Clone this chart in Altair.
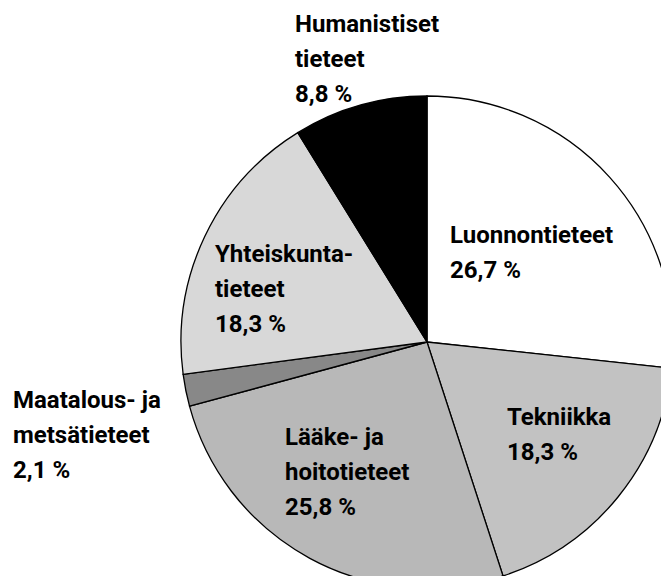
import altair as alt
import pandas as pd

# --- data ---
categories = [
    "Luonnontieteet",
    "Tekniikka",
    "Lääke- ja\nhoitotieteet",
    "Maatalous- ja\nmetsätieteet",
    "Yhteiskunta-\ntieteet",
    "Humanistiset\ntieteet",
]
shares = [26.7, 18.3, 25.8, 2.1, 18.3, 8.8]

# --- styles / layout ---
fills = ["#ffffff", "#c2c2c2", "#b8b8b8", "#888888", "#d8d8d8", "#000000"]
label_anchor = [  # left x, first baseline y (pixels in plot area)
    (442, 235),
    (499, 417),
    (277, 437),
    (5, 400),
    (207, 254),
    (287, 24),
]

W, H = 653, 568
CX, CY, R = 419, 334, 246


def fmt(v):
    return f"{v:.1f}".replace(".", ",") + " %"


df = pd.DataFrame({
    "cat": categories,
    "share": shares,
    "order": list(range(len(categories))),
})

pie = alt.Chart(df).mark_arc(
    radius=R, stroke="#000000", strokeWidth=1.3
).encode(
    theta=alt.Theta("share:Q", stack=True, scale=alt.Scale(domain=[0, 100])),
    order=alt.Order("order:Q"),
    color=alt.Color("cat:N", scale=alt.Scale(domain=categories, range=fills), legend=None),
    x=alt.value(CX),
    y=alt.value(CY),
)

layers = [pie]
for cat, v, (lx, ly) in zip(categories, shares, label_anchor):
    txt = cat + "\n" + fmt(v)
    layers.append(
        alt.Chart(pd.DataFrame({"t": [txt]})).mark_text(
            align="left", baseline="alphabetic", lineBreak="\n", lineHeight=35,
            font="Roboto", fontWeight="bold", fontSize=24, color="#000000",
        ).encode(text="t:N", x=alt.value(lx), y=alt.value(ly))
    )

chart = alt.layer(*layers).properties(
    width=W, height=H, padding=0, autosize=alt.AutoSizeParams(type="none")
).configure_view(stroke=None)

chart.save("out.html", embed_options={"renderer": "svg", "actions": False})
